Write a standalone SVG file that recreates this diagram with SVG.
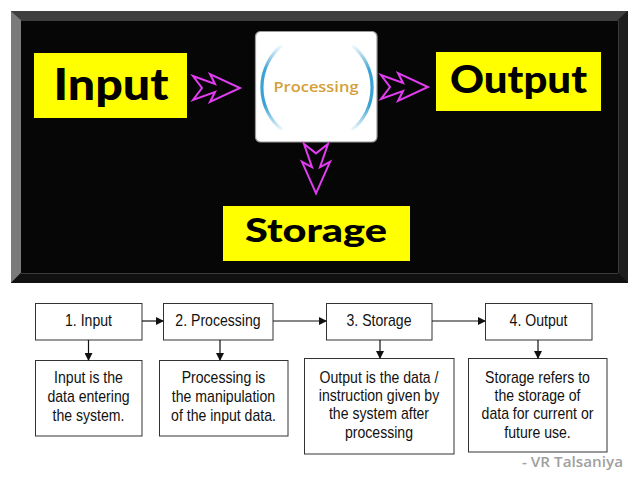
<svg xmlns="http://www.w3.org/2000/svg" width="638" height="479" viewBox="0 0 638 479">
<style>
.yel{fill:#FFFF00}
.big{font-family:Lato,"DejaVu Sans",sans-serif;font-weight:900;fill:#000;text-anchor:middle}
.chev{fill:none;stroke:#E23CF0;stroke-width:2;stroke-linejoin:miter}
.box{fill:#fff;stroke:#333;stroke-width:1}
.t{font-family:"Liberation Sans",Arial,sans-serif;font-size:16px;fill:#111;text-anchor:middle}
.ln{fill:none;stroke:#111;stroke-width:1.2}
</style>
<defs>
<path id="chev" d="M0,-12 L22,-4 L17,-14 L47,0 L17,14 L22,4 L0,12 L9,0 Z"/>
<marker id="ah" markerWidth="8" markerHeight="8" refX="7" refY="4" orient="auto" markerUnits="userSpaceOnUse">
<path d="M0,0 L8,4 L0,8 Z" fill="#111"/>
</marker>
<linearGradient id="arcg" gradientUnits="userSpaceOnUse" x1="0" y1="44" x2="0" y2="132">
<stop offset="0" stop-color="#3BA3D3" stop-opacity="0"/>
<stop offset="0.3" stop-color="#3BA3D3" stop-opacity="1"/>
<stop offset="0.7" stop-color="#3BA3D3" stop-opacity="1"/>
<stop offset="1" stop-color="#3BA3D3" stop-opacity="0"/>
</linearGradient>
</defs>
<rect width="638" height="479" fill="#fff"/>
<g id="panel">
<rect x="11" y="11" width="617" height="272" fill="#0a0a0a"/>
<polygon points="11,11 628,11 618,20 21,20" fill="#3f3f3f"/>
<polygon points="11,11 21,20 21,273 11,283" fill="#7a7a7a"/>
<polygon points="628,11 628,283 618,273 618,20" fill="#1e1e1e"/>
<polygon points="11,283 21,273 618,273 628,283" fill="#111"/>
<line x1="21" y1="20.5" x2="618" y2="20.5" stroke="#777" stroke-width="1"/>
<line x1="21" y1="273" x2="618" y2="273" stroke="#666" stroke-width="1"/>
<line x1="618" y1="20" x2="618" y2="273" stroke="#555" stroke-width="1"/>
<rect x="21" y="20.5" width="597" height="252.5" fill="#060606"/>
</g>
<g id="node-input">
<rect class="yel" x="34" y="53" width="153" height="65"/>
<text class="big" x="111" y="100" font-size="44" textLength="115" lengthAdjust="spacingAndGlyphs">Input</text>
</g>
<g id="node-processing">
<rect x="255.5" y="31.5" width="121.5" height="110.5" rx="5" fill="#fff" stroke="#9a9a9a" stroke-width="1.2"/>
<path d="M282,45 A55,55 0 0 0 282,130" fill="none" stroke="url(#arcg)" stroke-width="3.2"/>
<path d="M352,45 A55,55 0 0 1 352,130" fill="none" stroke="url(#arcg)" stroke-width="3.2"/>
<text x="316" y="92" font-family="'Open Sans',sans-serif" font-weight="600" font-size="15" fill="#D4A03A" text-anchor="middle" textLength="85" lengthAdjust="spacingAndGlyphs">Processing</text>
</g>
<g id="node-output">
<rect class="yel" x="436" y="52" width="165" height="59"/>
<text class="big" x="518.5" y="93" font-size="38" textLength="137" lengthAdjust="spacingAndGlyphs">Output</text>
</g>
<g id="node-storage">
<rect class="yel" x="223" y="206" width="187" height="55"/>
<text class="big" x="316" y="242" font-size="33" textLength="142" lengthAdjust="spacingAndGlyphs">Storage</text>
</g>
<g id="node-b1"><rect class="box" x="35.5" y="303.5" width="106.5" height="36.5"/><text class="t" transform="matrix(0.88,0,0,1,88.5,326)">1. Input</text></g>
<g id="node-b2"><rect class="box" x="163.5" y="303.5" width="109.5" height="36.5"/><text class="t" transform="matrix(0.88,0,0,1,218,326)">2. Processing</text></g>
<g id="node-b3"><rect class="box" x="326.5" y="303.5" width="105.5" height="36.5"/><text class="t" transform="matrix(0.88,0,0,1,379,326)">3. Storage</text></g>
<g id="node-b4"><rect class="box" x="485.5" y="303.5" width="106.5" height="36.5"/><text class="t" transform="matrix(0.88,0,0,1,538.5,326)">4. Output</text></g>
<g id="node-d1"><rect class="box" x="35.5" y="360.5" width="106.5" height="75.5"/>
<g transform="matrix(0.88,0,0,1,88.5,0)"><text class="t" y="383">Input is the</text><text class="t" y="402">data entering</text><text class="t" y="421">the system.</text></g></g>
<g id="node-d2"><rect class="box" x="159.5" y="360.5" width="128.5" height="75.5"/>
<g transform="matrix(0.88,0,0,1,223.5,0)"><text class="t" y="383">Processing is</text><text class="t" y="402">the manipulation</text><text class="t" y="421">of the input data.</text></g></g>
<g id="node-d3"><rect class="box" x="304.5" y="358.5" width="149.5" height="95.5"/>
<g transform="matrix(0.88,0,0,1,379,0)"><text class="t" y="383">Output is the data /</text><text class="t" y="401">instruction given by</text><text class="t" y="419">the system after</text><text class="t" y="438">processing</text></g></g>
<g id="node-d4"><rect class="box" x="468.5" y="358.5" width="138.5" height="93.5"/>
<g transform="matrix(0.88,0,0,1,537.5,0)"><text class="t" y="383">Storage refers to</text><text class="t" y="401">the storage of</text><text class="t" y="419">data for current or</text><text class="t" y="438">future use.</text></g></g>
<g id="connectors">
<use href="#chev" class="chev" transform="translate(193,88)"/>
<use href="#chev" class="chev" transform="translate(381,87)"/>
<use href="#chev" class="chev" transform="translate(316,144) rotate(90) scale(1.05,1)"/>
<path class="ln" d="M142,321 H163" marker-end="url(#ah)"/>
<path class="ln" d="M273,321 H326" marker-end="url(#ah)"/>
<path class="ln" d="M432,321 H485" marker-end="url(#ah)"/>
<path class="ln" d="M88.5,340 V360" marker-end="url(#ah)"/>
<path class="ln" d="M220,340 V360" marker-end="url(#ah)"/>
<path class="ln" d="M380,340 V358" marker-end="url(#ah)"/>
<path class="ln" d="M538,340 V358" marker-end="url(#ah)"/>
</g>
<text x="623" y="467" font-family="'Open Sans',sans-serif" font-weight="600" font-size="14" fill="#a0a0a0" text-anchor="end" textLength="101" lengthAdjust="spacingAndGlyphs">- VR Talsaniya</text>
</svg>
